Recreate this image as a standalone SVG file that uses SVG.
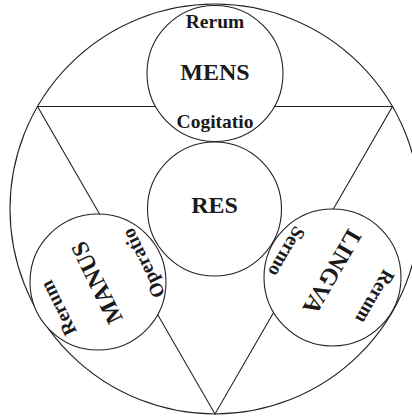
<svg xmlns="http://www.w3.org/2000/svg" width="412" height="417" viewBox="0 0 412 417">
<style>
.ln{fill:none;stroke:#222;stroke-width:1.1}
.c{fill:#fff;stroke:#222;stroke-width:1.1}
text{font-family:"Liberation Serif","Times New Roman",serif;font-weight:bold;fill:#1a1a1a;text-anchor:middle}
.big{font-size:24px}
.sm{font-size:19.5px}
</style>
<rect width="412" height="417" fill="#fff"/>
<g id="connectors">
<circle class="ln" cx="215" cy="209" r="205"/>
<polyline class="ln" points="37.5,106.5 392.5,106.5 215,414 37.5,106.5"/>
</g>
<g id="mens" transform="translate(215,73.5)">
<circle class="c" r="68"/>
<text class="sm" x="0" y="-45.5">Rerum</text>
<text class="big" x="0" y="6.5">MENS</text>
<text class="sm" x="0" y="54.5">Cogitatio</text>
</g>
<g id="res">
<circle class="c" cx="214.5" cy="209" r="67"/>
<text class="big" x="214.5" y="213">RES</text>
</g>
<g id="manus" transform="translate(98,282)">
<circle class="c" r="68"/>
<g transform="rotate(-116)">
<text class="sm" x="-6" y="-40.7">Rerum</text>
<text class="big" x="0" y="6.5">MANUS</text>
<text class="sm" x="-3" y="55.5">Operatio</text>
</g>
</g>
<g id="lingva" transform="translate(332.5,277.5)">
<circle class="c" r="68.5"/>
<g transform="rotate(120)">
<text class="sm" x="-4.6" y="-40">Rerum</text>
<text class="big" x="-4.6" y="11">LINGVA</text>
<text class="sm" x="0.6" y="59">Sermo</text>
</g>
</g>
</svg>
